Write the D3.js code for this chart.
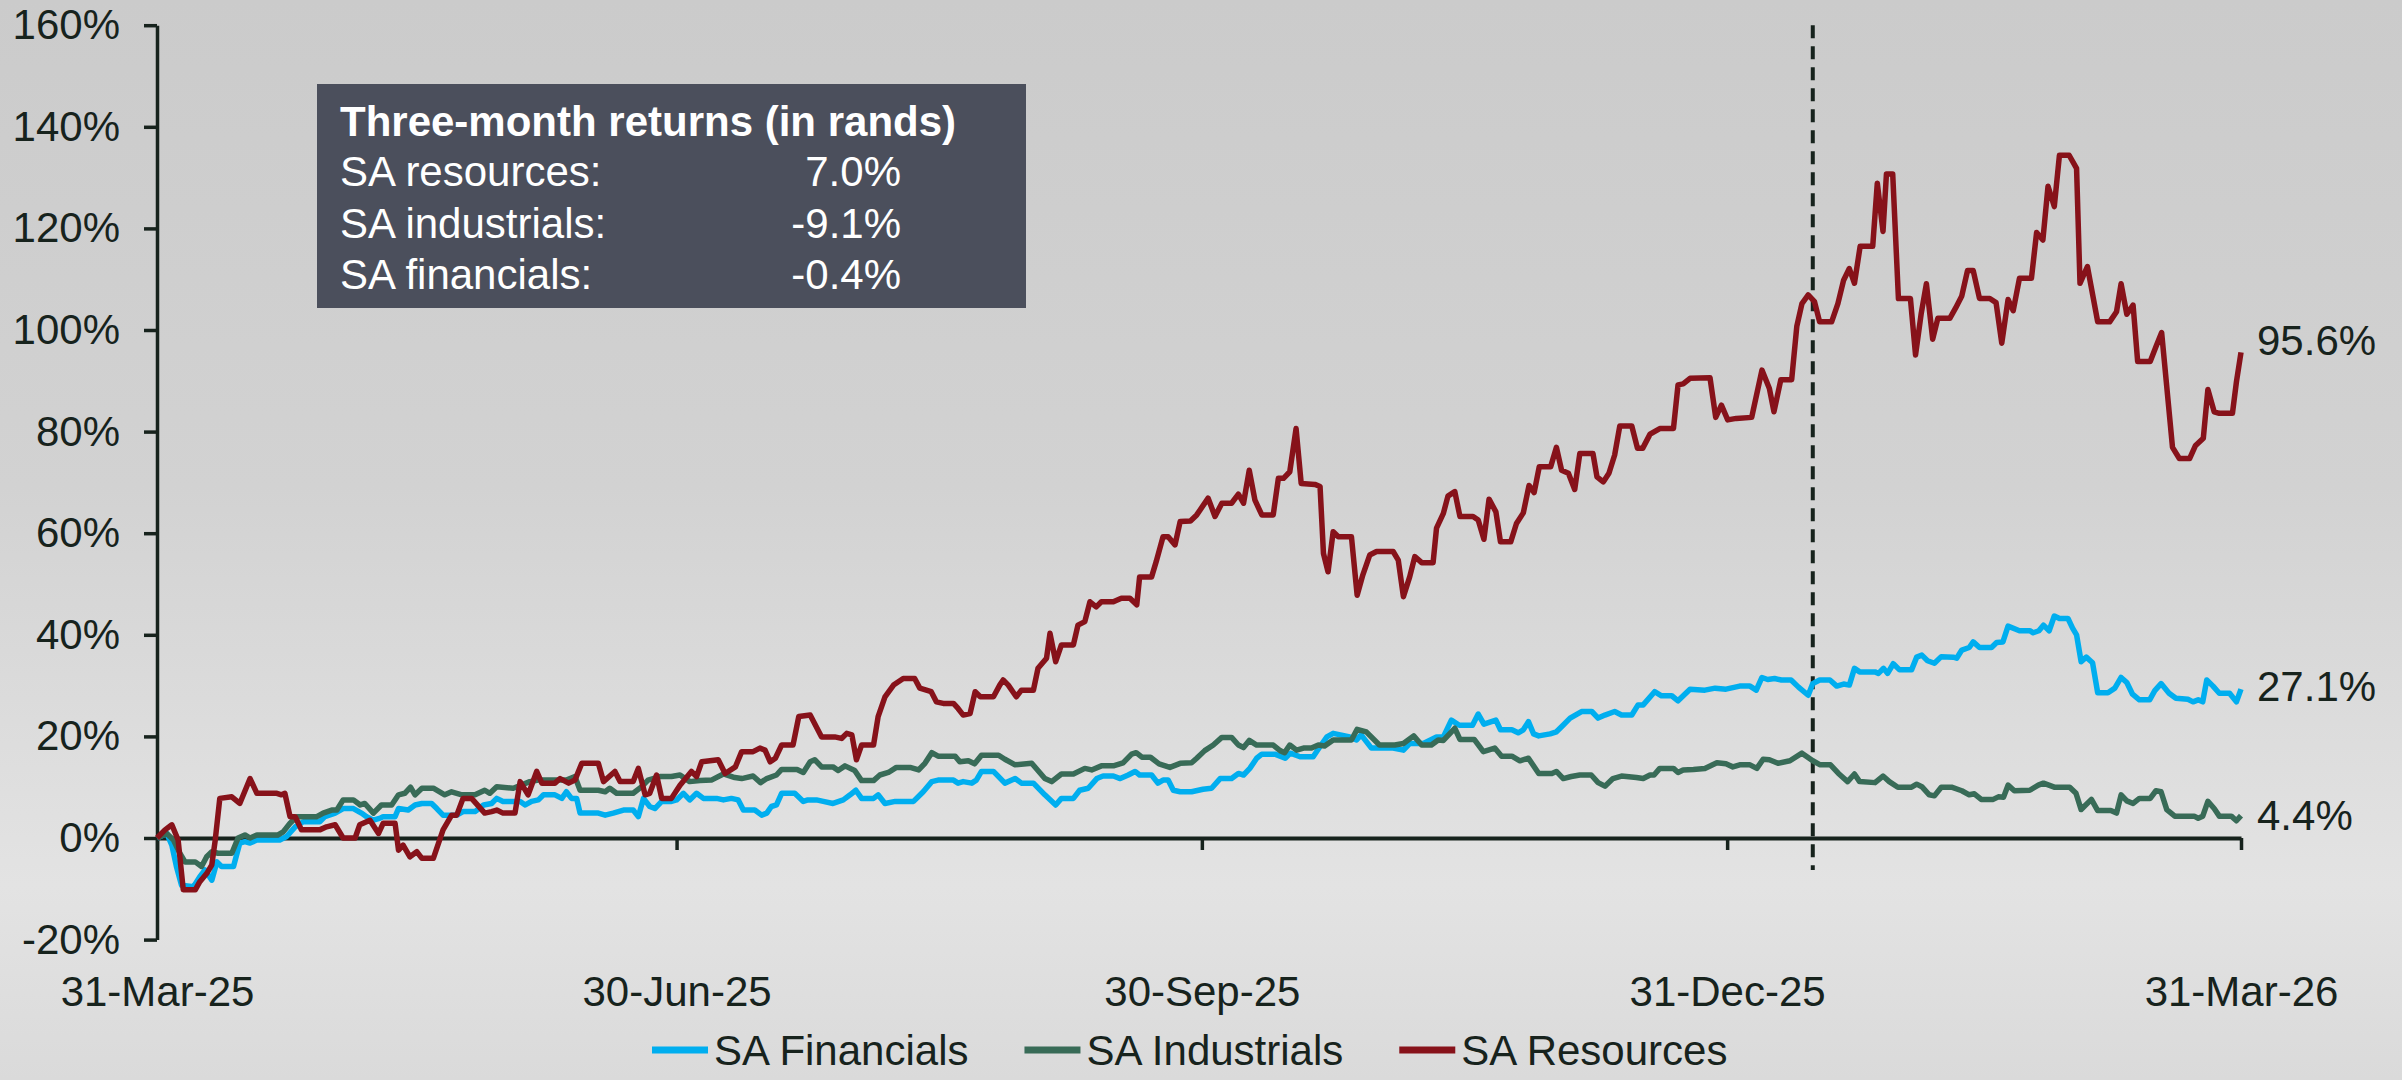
<!DOCTYPE html>
<html>
<head>
<meta charset="utf-8">
<script src="https://cdn.jsdelivr.net/npm/d3@7"></script>
<style>
  body { margin: 0; }
  svg { display: block; font-family: "Liberation Sans", Arial, sans-serif; }
</style>
</head>
<body>
<svg width="2402" height="1080"></svg>
<script>
// values are [days since 31-Mar-25, cumulative return %]
const financials = [
  [0,0],[1.7,0.9],[2.6,-1.4],[3.4,-5.6],[4.3,-9.3],[6.4,-9.6],[7.5,-7.6],[8.4,-6.3],[9.6,-8.3],[10.5,-4.7],[11.3,-5.6],[13.4,-5.6],[14.5,-1.0],[15.4,-0.7],[16.3,-1.0],[17.5,-0.4],[21.5,-0.4],[22.7,0.3],[24.2,2.2],[25.6,3.2],[28.5,3.2],[29.4,4.2],[31.2,4.9],[32.6,5.8],[34.4,5.8],[35.8,4.9],[36.7,4.2],[37.9,3.5],[39.1,3.9],[39.6,4.2],[41.7,4.2],[42.3,5.8],[44.0,5.5],[45.2,6.5],[46.4,6.8],[48.1,6.8],[49.0,5.8],[50.1,4.5],[52.5,4.5],[53.6,5.2],[55.7,5.2],[57.2,6.5],[58.6,6.8],[59.5,7.8],[60.6,7.2],[63.6,7.2],[64.5,6.5],[65.6,7.2],[66.8,7.5],[67.7,8.5],[69.7,8.5],[70.9,7.8],[71.7,9.1],[72.6,7.8],[73.5,7.8],[74.1,4.9],[77.3,4.9],[78.5,4.5],[79.9,4.9],[81.7,5.5],[83.4,5.5],[84.3,4.2],[85.2,7.8],[86.3,6.2],[87.2,5.8],[88.4,7.2],[90.1,7.2],
  [91.0,7.5],[92.2,8.8],[93.3,7.5],[94.5,8.8],[95.7,7.8],[98.0,7.8],[99.2,7.5],[100.6,7.8],[101.8,7.5],[102.7,5.5],[104.7,5.5],[105.9,4.5],[106.8,4.9],[107.6,6.2],[108.5,6.5],[109.4,8.8],[111.7,8.8],[113.2,7.2],[114.0,7.5],[115.5,7.5],[116.7,7.2],[118.4,6.8],[120.2,7.5],[121.4,8.5],[122.4,9.4],[123.4,7.8],[125.5,7.8],[126.3,8.5],[127.5,6.8],[129.3,7.2],[132.5,7.2],[134.2,9.1],[135.7,11.1],[136.8,11.4],[139.5,11.4],[140.3,10.8],[141.2,11.1],[142.7,10.8],[143.5,11.4],[144.4,13.1],[146.5,13.1],[148.5,10.8],[150.3,11.7],[151.4,10.8],[153.5,10.8],[155.5,8.5],[157.4,6.5],[158.4,7.8],[160.5,7.8],[161.6,9.4],[163.1,9.8],[164.6,11.7],[165.7,12.2],[167.5,12.2],[168.7,11.7],[170.1,12.4],[171.3,13.1],[172.1,12.4],[174.2,12.4],[175.3,10.8],[176.2,11.4],[177.1,11.4],[178.0,9.4],[179.2,9.1],[181.2,9.1],
  [183.2,9.6],[184.7,9.8],[186.2,11.7],[188.2,11.7],[189.4,12.7],[190.3,12.4],[191.4,13.7],[192.6,15.7],[193.5,16.5],[195.8,16.5],[197.6,15.7],[198.5,16.7],[200.2,16.0],[202.5,16.0],[203.7,18.0],[204.9,19.9],[206.0,20.6],[208.9,19.9],[210.1,19.3],[210.9,20.3],[212.7,17.7],[216.5,17.7],[218.3,17.3],[219.4,18.6],[221.8,18.6],[224.1,19.9],[225.3,19.9],[226.7,23.2],[228.1,22.2],[230.4,22.2],[231.4,24.4],[232.4,22.4],[234.5,23.2],[235.3,21.3],[237.3,21.3],[238.4,20.7],[239.3,21.3],[240.2,22.9],[241.1,20.5],[242.0,20.1],[244.0,20.5],[245.1,20.9],[246.0,21.9],[247.5,23.6],[249.5,24.9],[251.3,24.9],[252.4,23.6],[253.6,24.2],[255.3,24.9],[256.5,24.2],[258.3,24.2],[259.4,26.2],[260.3,26.2],[262.3,28.8],[263.5,28.0],[265.3,28.0],[266.4,27.0],[268.5,29.3],[271.1,29.1],
  [272.9,29.5],[274.8,29.3],[277.2,29.9],[279.0,29.9],[280.1,29.1],[281.1,31.6],[282.1,31.2],[283.3,31.4],[284.5,31.1],[286.2,31.1],[287.5,29.7],[289.2,28.1],[290.0,30.4],[291.2,31.1],[293.0,31.1],[294.2,29.9],[295.4,30.3],[296.4,30.1],[297.3,33.4],[298.2,32.7],[300.9,32.7],[301.5,32.4],[302.4,33.4],[303.1,32.4],[304.1,34.3],[305.2,33.1],[307.3,33.1],[308.2,35.6],[309.1,36.0],[310.1,34.9],[311.3,34.4],[312.5,35.7],[314.6,35.6],[315.2,35.4],[316.1,37.0],[317.4,37.5],[318.1,38.6],[319.2,37.5],[321.3,37.5],[322.2,38.5],[323.3,38.6],[324.2,41.7],[326.2,40.8],[328.0,40.8],[328.6,40.4],[329.6,40.8],[330.4,41.9],[331.4,40.8],[332.3,43.7],[333.2,43.2],[334.7,43.2],[335.5,41.3],[336.2,40.0],[337.0,34.7],[337.9,35.6],[339.0,34.5],[339.9,28.6],[341.7,28.6],[342.9,29.5],[344.0,31.6],[345.0,30.6],[346.0,28.3],[347.2,27.2],[349.0,27.2],[349.9,29.0],[351.0,30.4],[352.4,28.5],[353.6,27.5],[355.7,27.3],[356.6,26.8],[357.5,27.2],[358.3,26.8],[359.0,31.1],[360.1,29.9],[361.2,28.5],[363.0,28.5],[364.2,26.8],[365,29.3]
];

const industrials = [
  [0,0],[1.7,0.9],[2.9,-0.4],[4.0,-3.0],[4.9,-4.7],[6.7,-4.7],[7.8,-5.6],[8.7,-3.7],[9.6,-2.7],[10.7,-3.0],[13.1,-3.0],[14.2,0],[15.4,0.6],[16.3,0],[17.5,0.6],[21.2,0.6],[22.1,1.2],[23.3,2.9],[24.5,4.2],[28.0,4.2],[29.1,4.9],[30.6,5.5],[31.5,5.5],[32.6,7.5],[34.4,7.5],[35.6,6.5],[36.4,6.8],[37.9,4.9],[39.3,6.5],[41.1,6.5],[42.3,8.5],[43.4,8.8],[44.4,10.0],[45.2,8.5],[46.4,9.8],[48.4,9.8],[50.4,8.5],[51.6,9.1],[53.4,8.5],[55.7,8.5],[57.4,9.4],[58.3,8.8],[59.5,10.1],[62.4,9.8],[65.3,11.1],[66.8,11.4],[71.7,11.4],[73.2,12.1],[74.1,9.4],[77.3,9.4],[78.5,9.1],[79.3,9.8],[80.5,8.8],[83.4,8.8],[84.9,10.1],[86.0,11.4],[88.1,12.1],[90.1,12.1],
  [91.6,12.4],[93.3,11.1],[95.1,11.3],[97.1,11.4],[99.2,12.6],[101.2,11.9],[102.4,11.7],[104.4,12.2],[105.7,10.9],[106.8,11.7],[108.5,12.4],[109.4,13.5],[112.1,13.5],[113.2,12.9],[114.4,15.0],[115.2,15.4],[116.4,14.0],[118.4,14.0],[119.3,13.3],[120.5,14.2],[122.2,13.3],[123.4,11.3],[125.5,11.3],[126.6,12.4],[128.1,12.9],[129.5,13.9],[131.9,13.9],[133.4,13.4],[134.5,14.7],[135.7,16.8],[136.8,16.1],[139.8,16.1],[140.6,15.0],[142.1,15.2],[143.2,14.6],[144.4,16.3],[147.4,16.3],[148.5,15.5],[150.3,14.4],[153.2,14.7],[155.5,11.7],[156.7,11.1],[158.4,12.6],[160.5,12.6],[162.5,13.7],[163.7,13.4],[165.4,14.2],[167.5,14.2],[169.2,14.8],[170.7,16.5],[171.5,16.8],[172.5,15.9],[174.0,15.9],[175.5,14.6],[177.4,13.9],[179.2,14.7],[181.2,14.8],
  [182.1,15.7],[183.5,17.2],[185.0,18.3],[186.5,19.8],[188.2,19.8],[189.4,18.3],[190.3,17.8],[191.3,19.2],[192.6,18.3],[195.5,18.3],[196.7,17.2],[197.5,16.8],[198.4,18.3],[199.6,17.3],[200.8,17.7],[202.2,17.7],[203.4,18.3],[204.5,18.1],[206.0,19.3],[209.2,19.3],[210.2,21.4],[211.8,20.9],[214.1,18.3],[216.8,18.3],[218.3,18.6],[220.1,20.1],[221.5,18.3],[223.2,18.3],[224.4,19.3],[225.3,19.2],[227.3,21.6],[228.2,19.4],[230.7,19.4],[232.3,17.0],[234.3,17.7],[235.5,16.1],[237.3,16.1],[238.7,15.2],[240.2,15.7],[242.0,12.7],[244.3,12.7],[245.1,13.1],[246.3,11.7],[247.7,12.1],[249.2,12.4],[251.2,12.4],[252.4,10.9],[253.6,10.2],[255.0,11.7],[256.5,12.2],[259.1,11.9],[260.3,11.7],[261.5,12.4],[262.2,12.4],[263.2,13.7],[265.6,13.7],[266.4,12.9],[267.3,13.4],[269.1,13.5],[271.1,13.7],
  [273.2,14.8],[274.8,14.6],[276.0,14.0],[277.2,14.4],[279.0,14.4],[280.2,13.7],[281.3,15.5],[282.4,15.4],[283.9,14.7],[286.0,15.2],[288.1,16.7],[290.0,15.2],[291.3,14.4],[293.1,14.4],[294.5,12.7],[296.1,11.1],[297.3,12.6],[298.2,11.1],[300.9,10.9],[302.3,12.2],[303.4,11.1],[304.9,10.0],[307.3,10.0],[308.2,10.6],[309.1,10.1],[310.4,8.5],[311.3,8.3],[312.5,10.0],[314.3,10.0],[316.1,9.3],[317.4,8.5],[318.3,8.7],[319.5,7.6],[321.6,7.6],[322.5,8.1],[323.4,8.0],[324.2,10.4],[325.3,9.3],[328.0,9.4],[329.5,10.4],[330.4,10.8],[332.3,10.0],[335.0,10.0],[336.1,8.8],[337.0,5.6],[338.8,7.6],[339.9,5.4],[342.2,5.4],[343.2,4.9],[344.0,8.5],[345.0,7.3],[346.1,6.8],[347.2,7.8],[349.1,7.8],[350.1,9.3],[351.0,9.1],[352.0,5.6],[353.4,4.3],[356.8,4.3],[357.5,3.9],[358.3,4.3],[359.2,7.2],[360.3,5.8],[361.2,4.3],[363.3,4.3],[364.2,3.4],[365,4.4]
];

const resources = [
  [0,0],[1.4,1.6],[2.6,2.6],[3.7,-0.4],[4.6,-10.2],[6.7,-10.2],[7.5,-8.6],[8.7,-7.0],[9.6,-5.3],[10.2,-0.4],[11,7.8],[13.1,8.1],[14.5,6.8],[16.3,11.7],[17.5,8.8],[21,8.8],[21.8,8.5],[22.4,8.8],[23.3,4.2],[24.2,4.2],[25.3,1.6],[28.5,1.6],[29.7,2.2],[31.2,2.6],[32.6,0],[34.7,0],[35.5,2.6],[37.3,3.5],[38.8,0.9],[39.6,2.9],[41.7,2.9],[42.3,-2.4],[43.1,-1.4],[44.3,-3.7],[45.5,-2.7],[46.4,-4.0],[48.4,-4.0],[50.1,1.6],[51.6,4.5],[52.5,4.5],[53.6,7.8],[55.1,7.8],[57.4,4.9],[58.6,5.2],[59.5,5.5],[60.6,4.9],[62.7,4.9],[63.6,11.1],[65,8.5],[66.5,13.1],[67.4,10.8],[69.7,10.8],[70.6,11.7],[72.1,10.8],[73.2,11.4],[74.4,14.7],[77.3,14.7],[78.2,11.1],[80.2,13.1],[81.1,11.1],[83.4,11.1],[84.3,13.7],[85.5,8.5],[86.3,8.8],[87.5,12.4],[88.4,7.8],[90.1,7.8],
  [91.6,10.4],[93.6,13.1],[94.5,12.1],[95.4,15.0],[98.3,15.4],[99.5,12.7],[101.3,14.0],[102.4,17.0],[104.4,17.0],[105.6,17.7],[106.5,17.3],[107.4,15.0],[108.3,15.7],[109.4,18.3],[111.4,18.3],[112.4,23.9],[114.4,24.2],[116.4,19.9],[118.7,19.9],[119.9,19.6],[120.8,20.6],[121.7,20.3],[122.5,15.4],[123.4,18.3],[125.5,18.3],[126.3,23.9],[127.5,27.8],[129,30.1],[130.7,31.4],[132.7,31.4],[133.6,29.5],[135.6,28.8],[136.5,26.8],[137.7,26.5],[139.5,26.5],[140.3,25.5],[141.2,24.2],[142.4,24.5],[143.3,28.8],[144.2,27.8],[146.5,27.8],[147.6,30.1],[148.2,31.1],[149.1,30.1],[150.5,27.8],[151.4,29.1],[153.5,29.1],[154.3,33.4],[155.8,35.4],[156.4,40.3],[157.4,34.7],[158.4,38.0],[160.5,38.0],[161.3,41.9],[162.5,42.6],[163.4,46.5],[164.5,45.5],[165.4,46.5],[167.5,46.5],[168.9,47.2],[170.4,47.2],[171.6,45.9],[172.1,51.4],[174.2,51.4],[175.0,54.4],[176.2,59.3],[177.1,59.3],[178.3,57.7],[179.2,62.3],[181.0,62.4],
  [182.1,63.6],[184.1,66.9],[185.3,63.3],[186.5,65.9],[188.2,65.9],[189.4,67.7],[190.3,65.9],[191.3,72.4],[192.3,66.5],[193.5,63.6],[195.5,63.6],[196.4,70.8],[197.3,70.8],[198.4,72.1],[199.5,80.6],[200.4,69.8],[202.8,69.6],[203.7,69.2],[204.3,56.0],[205.1,52.4],[206.0,60.3],[206.9,59.3],[209.2,59.3],[210.2,47.8],[211.2,51.8],[212.4,55.7],[213.6,56.4],[216.5,56.4],[217.4,54.7],[218.3,47.5],[219.4,51.4],[220.3,55.4],[221.5,54.2],[223.5,54.2],[224.1,61.0],[225.3,63.9],[226.1,67.3],[227.3,68.2],[228.2,63.3],[230.5,63.3],[231.4,62.6],[232.4,58.8],[233.3,66.7],[234.5,64.2],[235.3,58.3],[237.1,58.3],[238.1,61.9],[239.3,64.0],[240.3,69.4],[241.2,68.0],[242.1,73.1],[244.1,73.1],[245.1,76.9],[246.0,72.4],[247.2,71.8],[248.3,68.6],[249.2,75.7],[251.5,75.7],[252.2,71.1],[253.3,70.1],[254.3,71.8],[255.3,75.4],[256.2,81.1],[258.3,81.1],[259.3,76.7],[260.2,76.7],[261.5,79.5],[263.2,80.6],[265.6,80.6],[266.4,89.2],[267.3,89.4],[268.5,90.5],[272.0,90.6],
  [273.0,82.8],[274.0,85.2],[275.1,82.3],[276.6,82.6],[279.3,82.8],[281.1,92.1],[282.4,88.5],[283.2,83.9],[284.4,90.2],[286.3,90.2],[287.2,100.7],[288.1,105.2],[289.2,106.9],[290.3,105.6],[291.2,101.6],[293.3,101.6],[294.4,105.2],[295.4,109.8],[296.4,112.1],[297.3,109.2],[298.3,116.5],[300.5,116.5],[301.3,128.9],[302.3,119.4],[302.9,130.7],[304.0,130.7],[305.0,106.2],[307.1,106.2],[308.0,95.1],[309.0,103.3],[309.9,109.1],[311.0,98.2],[311.9,102.3],[314.0,102.3],[315.0,104.3],[316.1,106.7],[317.1,111.7],[318.1,111.7],[319.2,106.2],[321.0,106.2],[322.1,105.4],[323.1,97.4],[324.2,106.0],[325.1,103.8],[326.2,110.2],[328.3,110.2],[329.2,119.2],[330.3,117.7],[331.2,128.3],[332.3,124.3],[333.2,134.4],[334.9,134.4],[336.2,131.8],[336.8,109.2],[338.1,112.5],[339.9,101.6],[342.0,101.6],[343.2,103.6],[344.0,109.1],[345.0,103.1],[346.1,104.9],[346.9,93.8],[349.1,93.8],[350.1,96.7],[351.1,99.5],[353.0,76.9],[354.2,74.7],[356.0,74.7],[357.0,77.2],[358.4,78.7],[359.2,88.3],[360.3,83.9],[361.2,83.6],[363.5,83.6],[364.2,89.8],[365,95.6]
];

const seriesNames = ["SA Financials", "SA Industrials", "SA Resources"];
const seriesColors = ["#00aeef", "#386b57", "#87121a"];
const endLabels = ["27.1%", "4.4%", "95.6%"];

const tickDates = ["2025-03-31", "2025-06-30", "2025-09-30", "2025-12-31", "2026-03-31"];
const tickLabels = ["31-Mar-25", "30-Jun-25", "30-Sep-25", "31-Dec-25", "31-Mar-26"];
const yTicks = [-20, 0, 20, 40, 60, 80, 100, 120, 140, 160];
const markerDate = "2026-01-15";

const boxTitle = "Three-month returns (in rands)";
const boxRows = ["SA resources:", "SA industrials:", "SA financials:"];
const boxValues = ["7.0%", "-9.1%", "-0.4%"];

const svg = d3.select("svg");
const parse = d3.timeParse("%Y-%m-%d");
const start = parse(tickDates[0]);
const toDate = d => new Date(start.getTime() + d * 864e5);
const ink = "#17231d";
const fontSize = 42;

// background
const defs = svg.append("defs");
const grad = defs.append("linearGradient").attr("id", "bg").attr("x1", 0).attr("y1", 0).attr("x2", 0).attr("y2", 1);
grad.append("stop").attr("offset", "0").attr("stop-color", "#cbcbcb");
grad.append("stop").attr("offset", "0.45").attr("stop-color", "#d2d2d2");
grad.append("stop").attr("offset", "0.82").attr("stop-color", "#e3e3e3");
grad.append("stop").attr("offset", "1").attr("stop-color", "#dadada");
svg.append("rect").attr("width", 2402).attr("height", 1080).attr("fill", "url(#bg)");

var x = d3.scaleTime().domain([start, parse(tickDates[4])]).range([157, 2241]);
var y = d3.scaleLinear().domain([-20, 160]).range([939.6, 25.2]);

// y axis
var yAxis = svg.append("g")
  .attr("transform", "translate(157,0)")
  .call(d3.axisLeft(y).tickValues(yTicks).tickSize(13).tickSizeOuter(0).tickPadding(24)
    .tickFormat(function (d) { return d + "%"; }));
yAxis.select(".domain").attr("stroke", ink).attr("stroke-width", 3.5);
yAxis.selectAll(".tick line").attr("stroke", ink).attr("stroke-width", 3.5);
yAxis.selectAll("text").attr("font-size", fontSize).attr("fill", ink)
  .attr("font-family", "Liberation Sans, Arial, sans-serif");

// x axis on the zero line
var xAxis = svg.append("g")
  .attr("transform", "translate(0," + y(0) + ")")
  .call(d3.axisBottom(x).tickValues(tickDates.map(parse)).tickSize(12).tickSizeOuter(0).tickPadding(126)
    .tickFormat(function (d, i) { return tickLabels[i]; }));
xAxis.select(".domain").attr("stroke", ink).attr("stroke-width", 4);
xAxis.selectAll(".tick line").attr("stroke", ink).attr("stroke-width", 3.5);
xAxis.selectAll("text").attr("font-size", fontSize).attr("fill", ink)
  .attr("font-family", "Liberation Sans, Arial, sans-serif");

// dashed marker
svg.append("line")
  .attr("x1", x(parse(markerDate))).attr("x2", x(parse(markerDate)))
  .attr("y1", y(160)).attr("y2", y(-6.3))
  .attr("stroke", ink).attr("stroke-width", 4).attr("stroke-dasharray", "13,8");

// lines
var allSeries = [financials, industrials, resources];
var line = d3.line()
  .x(function (d) { return x(toDate(d[0])); })
  .y(function (d) { return y(d[1]); });

svg.append("g").selectAll("path")
  .data(allSeries)
  .join("path")
  .attr("d", line)
  .attr("fill", "none")
  .attr("stroke", function (d, i) { return seriesColors[i]; })
  .attr("stroke-width", 5.5)
  .attr("stroke-linejoin", "round");

// end labels, nudged the way the original places them
var labelNudge = [-3, 0, -12];
svg.append("g").selectAll("text")
  .data(allSeries)
  .join("text")
  .attr("x", 2257)
  .attr("y", function (d, i) { return y(d[d.length - 1][1]) + labelNudge[i]; })
  .attr("dy", "0.35em")
  .attr("font-size", fontSize)
  .attr("fill", ink)
  .text(function (d, i) { return endLabels[i]; });

// returns box
var box = svg.append("g");
box.append("rect").attr("x", 317).attr("y", 84).attr("width", 709).attr("height", 224).attr("fill", "#4b4f5c");
box.append("text").attr("x", 340).attr("y", 136).attr("font-size", fontSize).attr("font-weight", "bold")
  .attr("fill", "#ffffff").text(boxTitle);
box.selectAll(".row")
  .data(boxRows)
  .join("text")
  .attr("class", "row")
  .attr("x", 340)
  .attr("y", function (d, i) { return 186 + i * 51.5; })
  .attr("font-size", fontSize)
  .attr("fill", "#ffffff")
  .text(function (d) { return d; });
box.selectAll(".val")
  .data(boxValues)
  .join("text")
  .attr("class", "val")
  .attr("x", 901)
  .attr("y", function (d, i) { return 186 + i * 51.5; })
  .attr("text-anchor", "end")
  .attr("font-size", fontSize)
  .attr("fill", "#ffffff")
  .text(function (d) { return d; });

// legend (kept clear of the bottom edge)
var legend = svg.append("g");
var lx = 652;
var ly = 1050;
seriesNames.forEach(function (name, i) {
  legend.append("line")
    .attr("x1", lx).attr("x2", lx + 56)
    .attr("y1", ly).attr("y2", ly)
    .attr("stroke", seriesColors[i]).attr("stroke-width", 7);
  var t = legend.append("text")
    .attr("x", lx + 62).attr("y", ly).attr("dy", "0.35em")
    .attr("font-size", fontSize).attr("fill", ink)
    .text(name);
  lx = lx + 62 + t.node().getComputedTextLength() + 56;
});
</script>
</body>
</html>
